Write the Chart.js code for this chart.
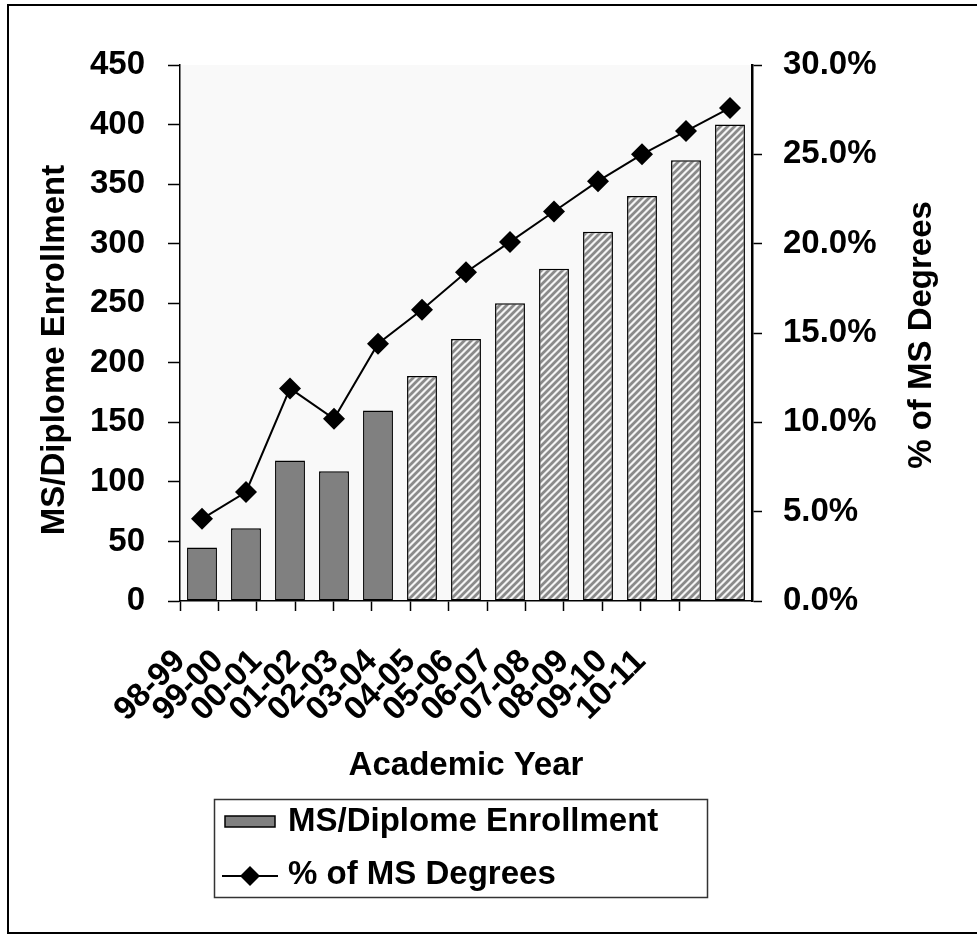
<!DOCTYPE html>
<html lang="en">
<head>
    <meta charset="UTF-8">
    <title>MS/Diplome Enrollment</title>
    <script src="https://cdn.jsdelivr.net/npm/chart.js"></script>
    <style>
        body { margin: 0; background: #fff; }
        .wrap { width: 977px; height: 935px; position: relative; }
    </style>
</head>
<body>
    <div class="wrap"><canvas id="enrollChart"></canvas></div>

    <script>
        // values
        const years = ['98-99', '99-00', '00-01', '01-02', '02-03', '03-04', '04-05',
                       '05-06', '06-07', '07-08', '08-09', '09-10', '10-11'];
        const enrollment = [45, 61, 118, 109, 160, 189, 220, 250, 279, 310, 340, 370, 400];
        const pctMS = [4.6, 6.1, 11.9, 10.2, 14.4, 16.3, 18.4, 20.1, 21.8, 23.5, 25.0, 26.3, 27.6];
        const firstProjected = years.indexOf('03-04');   // hatched bars from here on
        const leftTicks = [0, 50, 100, 150, 200, 250, 300, 350, 400, 450];
        const rightTicks = [0, 5, 10, 15, 20, 25, 30];

        const FONT = { family: "'Liberation Sans', Arial, sans-serif", size: 33, weight: 'bold' };
        const fontStr = "bold 33px 'Liberation Sans', Arial, sans-serif";

        function makeHatch() {
            let c = document.createElement('canvas');
            c.width = 7; c.height = 7;
            let g = c.getContext('2d');
            g.fillStyle = '#f4f4f4';
            g.fillRect(0, 0, 7, 7);
            g.strokeStyle = '#8a8a8a';
            g.lineWidth = 2.8;
            g.beginPath();
            g.moveTo(-1, 8); g.lineTo(8, -1);
            g.moveTo(-1, 1); g.lineTo(1, -1);
            g.moveTo(6, 8); g.lineTo(8, 6);
            g.stroke();
            return g.createPattern(c, 'repeat');
        }
        const hatch = makeHatch();

        function vertTitle(ctx, text, x, y) {
            ctx.save();
            ctx.translate(x, y);
            ctx.rotate(-Math.PI / 2);
            ctx.font = fontStr;
            ctx.fillStyle = '#000';
            ctx.textAlign = 'center';
            ctx.textBaseline = 'middle';
            ctx.fillText(text, 0, 0);
            ctx.restore();
        }

        const framePlugin = {
            id: 'frame',
            beforeDraw(chart) {
                const { ctx, chartArea: a } = chart;
                ctx.save();
                ctx.fillStyle = '#fff';
                ctx.fillRect(0, 0, chart.width, chart.height);
                ctx.strokeStyle = '#000';
                ctx.lineWidth = 2;
                ctx.strokeRect(8, 5, chart.width + 10, 928);
                ctx.fillStyle = '#f9f9f9';
                ctx.fillRect(a.left, a.top, a.right - a.left, a.bottom - a.top);
                ctx.restore();
            },
            afterDraw(chart) {
                const ctx = chart.ctx;
                const sc = chart.options.scales;
                const ds = chart.data.datasets;
                const barSet = ds.find(d => d.type === 'bar');
                const lineSet = ds.find(d => d.type === 'line');

                // axis titles, both read bottom to top
                vertTitle(ctx, sc.y.title.text, 55, 350);
                vertTitle(ctx, sc.y1.title.text, 922, 335);

                // legend box
                ctx.save();
                ctx.strokeStyle = '#333';
                ctx.lineWidth = 1.5;
                ctx.strokeRect(214.5, 799.5, 493, 98);
                ctx.fillStyle = '#808080';
                ctx.fillRect(225, 816, 50, 11);
                ctx.strokeStyle = '#000';
                ctx.lineWidth = 1.5;
                ctx.strokeRect(225, 816, 50, 11);
                ctx.beginPath();
                ctx.lineWidth = 2;
                ctx.moveTo(222, 876); ctx.lineTo(278, 876);
                ctx.stroke();
                ctx.fillStyle = '#000';
                ctx.beginPath();
                ctx.moveTo(250, 866); ctx.lineTo(260, 876); ctx.lineTo(250, 886); ctx.lineTo(240, 876);
                ctx.closePath();
                ctx.fill();
                ctx.font = fontStr;
                ctx.textBaseline = 'middle';
                ctx.fillText(barSet.label, 288, 822);
                ctx.fillText(lineSet.label, 288, 875);
                ctx.restore();
            }
        };

        const ctx = document.getElementById('enrollChart').getContext('2d');
        const enrollChart = new Chart(ctx, {
            data: {
                labels: years,
                datasets: [
                    {
                        type: 'line',
                        label: '% of MS Degrees',
                        data: pctMS,
                        yAxisID: 'y1',
                        xAxisID: 'x',
                        borderColor: '#000',
                        borderWidth: 2,
                        backgroundColor: '#000',
                        pointStyle: 'rectRot',
                        pointRadius: 11,
                        pointBorderWidth: 0,
                        tension: 0,
                        order: 0
                    },
                    {
                        type: 'bar',
                        label: 'MS/Diplome Enrollment',
                        data: enrollment,
                        yAxisID: 'y',
                        xAxisID: 'x',
                        backgroundColor: c => c.dataIndex >= firstProjected ? hatch : '#808080',
                        borderColor: '#000',
                        borderWidth: 1.5,
                        borderSkipped: false,
                        barPercentage: 0.68,
                        categoryPercentage: 1,
                        order: 1
                    }
                ]
            },
            options: {
                responsive: true,
                maintainAspectRatio: false,
                animation: false,
                layout: { padding: { top: 65, bottom: 140, left: 0, right: 0 } },
                plugins: { legend: { display: false }, tooltip: { enabled: false } },
                scales: {
                    x: { type: 'category', display: false, offset: true },
                    xl: {
                        type: 'linear',
                        position: 'bottom',
                        min: 0,
                        max: 14.9,
                        afterBuildTicks: s => { s.ticks = years.concat(['']).map((_, i) => ({ value: i })); },
                        afterFit: s => { s.height = 194; },
                        grid: { drawOnChartArea: false, color: '#000', tickLength: 10, tickWidth: 1.5 },
                        border: { color: '#000', width: 1.5 },
                        ticks: {
                            autoSkip: false,
                            minRotation: 45,
                            maxRotation: 45,
                            padding: 31,
                            color: '#000',
                            font: FONT,
                            callback: (v, i) => years[i] || ''
                        },
                        title: { display: true, text: 'Academic Year', color: '#000', font: FONT, padding: { top: 0, bottom: 9 } }
                    },
                    y: {
                        position: 'left',
                        min: 0,
                        max: 450,
                        afterBuildTicks: s => { s.ticks = leftTicks.map(v => ({ value: v })); },
                        afterFit: s => { s.width = 180; },
                        grid: { drawOnChartArea: false, color: '#000', tickLength: 12, tickWidth: 1.5 },
                        border: { color: '#000', width: 1.5 },
                        ticks: { padding: 23, color: '#000', font: FONT },
                        title: { display: false, text: 'MS/Diplome Enrollment' }
                    },
                    y1: {
                        position: 'right',
                        min: 0,
                        max: 30,
                        afterBuildTicks: s => { s.ticks = rightTicks.map(v => ({ value: v })); },
                        afterFit: s => { s.width = 225; },
                        grid: { drawOnChartArea: false, color: '#000', tickLength: 10, tickWidth: 1.5 },
                        border: { color: '#000', width: 2.5 },
                        ticks: { padding: 21, color: '#000', font: FONT, callback: v => v.toFixed(1) + '%' },
                        title: { display: false, text: '% of MS Degrees' }
                    }
                }
            },
            plugins: [framePlugin]
        });
    </script>
</body>
</html>
